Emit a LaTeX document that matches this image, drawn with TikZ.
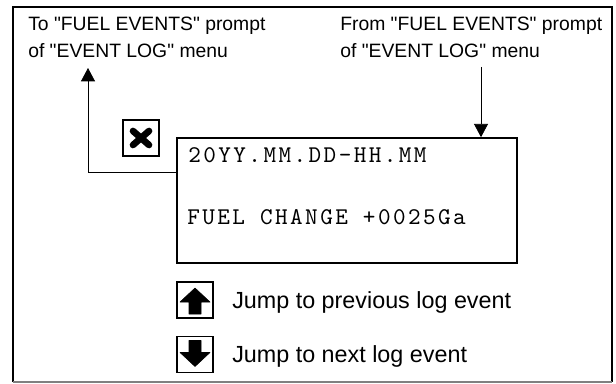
\documentclass[tikz,border=0pt]{standalone}
\usepackage{fontspec}
\setmainfont{Liberation Sans}
\newfontfamily\dispfont{lmmono10-regular.otf}[LetterSpace=10.2]
\usetikzlibrary{arrows.meta,calc}
\begin{document}
\begin{tikzpicture}[x=0.75pt,y=-0.75pt,
  lbl/.style={font=\fontsize{14.5}{20.25}\selectfont, inner sep=0pt, align=left, anchor=base west},
  disptext/.style={font=\dispfont\fontsize{18}{22}\selectfont, inner sep=0pt, anchor=base west},
  keytext/.style={font=\fontsize{17.5}{21}\selectfont, inner sep=0pt, anchor=base west},
  dispbox/.style={draw, line width=1.2pt, minimum width=255pt, minimum height=93.75pt, inner sep=0pt},
  iconbox/.style={draw, line width=0.9pt, minimum size=27pt, inner sep=0pt},
  conn/.style={line width=0.6pt, -{Triangle[length=10pt,width=10.5pt]}},
  glyph/.style={fill=black, draw=black, line width=0.4pt, line join=round},
]
\useasboundingbox (0,0) rectangle (616,384);
% frame
\draw[line width=1.6pt] (13,382) -- (13,7) -- (612,7) -- (612,382);
\draw[gray, line width=0.8pt] (13,382) -- (612,382);

% top labels (anchor = baseline of the last line)
\node[lbl] (tolbl) at (28,58) {To \textquotedbl FUEL EVENTS\textquotedbl{} prompt\\of \textquotedbl EVENT LOG\textquotedbl{} menu};
\node[lbl] (fromlbl) at (340,58) {From \textquotedbl FUEL EVENTS\textquotedbl{} prompt\\of \textquotedbl EVENT LOG\textquotedbl{} menu};

% display
\node[dispbox] (disp) at (347,200.5) {};
\node[disptext] (dline1) at (188,163) {20YY.MM.DD-HH.MM};
\node[disptext] (dline2) at (187,225) {FUEL CHANGE +0025Ga};

% X key
\node[iconbox] (xkey) at (141,138) {};
\draw[line width=5pt, line cap=round] ($(xkey.center)+(-8,-7)$) -- ($(xkey.center)+(8,7)$);
\draw[line width=5pt, line cap=round] ($(xkey.center)+(-8,7)$) -- ($(xkey.center)+(8,-7)$);

% up key
\node[iconbox] (upkey) at (195,300) {};
\fill[glyph] ($(upkey.center)+(0,-12)$) -- ($(upkey.center)+(15,2)$) -- ($(upkey.center)+(6,2)$) -- ($(upkey.center)+(6,14)$) -- ($(upkey.center)+(-6,14)$) -- ($(upkey.center)+(-6,2)$) -- ($(upkey.center)+(-15,2)$) -- cycle;
\node[keytext] (uptext) at (232,308) {Jump to previous log event};

% down key
\node[iconbox] (downkey) at (195,354.5) {};
\fill[glyph] ($(downkey.center)+(0,12)$) -- ($(downkey.center)+(15,-2)$) -- ($(downkey.center)+(6,-2)$) -- ($(downkey.center)+(6,-14)$) -- ($(downkey.center)+(-6,-14)$) -- ($(downkey.center)+(-6,-2)$) -- ($(downkey.center)+(-15,-2)$) -- cycle;
\node[keytext] (downtext) at (232,362) {Jump to next log event};

% connectors
\coordinate (ltip) at (88,68);
\draw[conn] ($(disp.north west)+(0,35)$) -| (ltip);
\coordinate (rtail) at (481,67);
\draw[conn] (rtail) -- (rtail |- disp.north);
\end{tikzpicture}
\end{document}
